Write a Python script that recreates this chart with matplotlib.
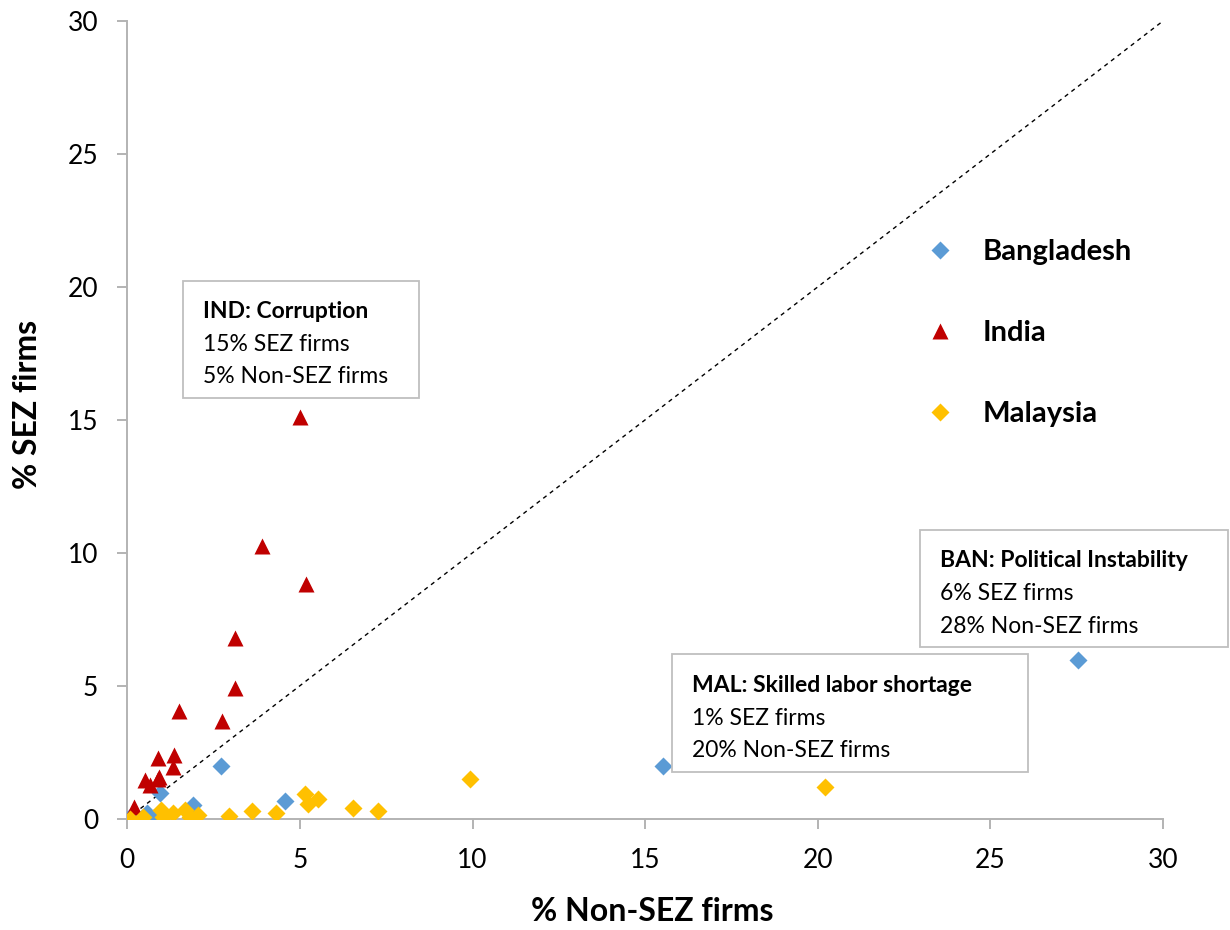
import matplotlib
matplotlib.use("Agg")
import matplotlib.pyplot as plt
from matplotlib.patches import Rectangle

plt.rcParams['font.family'] = ['Lato', 'DejaVu Sans']

# Data (% of firms citing obstacle)
bangladesh_x = [0.08, 0.30, 0.56, 0.75, 0.95, 1.91, 2.71, 4.58, 15.52, 25.33, 27.55]
bangladesh_y = [0.06, 0.00, 0.20, 0.02, 0.96, 0.52, 1.99, 0.67, 2.00, 3.67, 5.96]

india_x = [0.19, 0.51, 0.66, 0.90, 0.93, 0.88, 1.33, 1.36, 1.50, 2.75, 3.13, 3.13, 3.91, 4.99, 5.18]
india_y = [0.45, 1.46, 1.27, 1.50, 1.58, 2.28, 1.94, 2.40, 4.04, 3.66, 4.92, 6.80, 10.26, 15.10, 8.82]

malaysia_x = [0.08, 0.46, 0.99, 1.02, 1.33, 1.67, 1.81, 2.05, 2.94, 3.60, 4.32,
              5.16, 5.23, 5.52, 6.53, 7.27, 9.92, 20.21]
malaysia_y = [0.00, 0.05, 0.33, 0.08, 0.20, 0.33, 0.05, 0.14, 0.10, 0.30, 0.20,
              0.93, 0.55, 0.73, 0.39, 0.29, 1.49, 1.21]

ticks = [0, 5, 10, 15, 20, 25, 30]

# callout boxes: (left, bottom, right, top) in data units, then title + two lines
callouts = [
    ((1.60, 15.83, 8.45, 20.24), "IND: Corruption", "15% SEZ firms", "5% Non-SEZ firms"),
    ((22.96, 6.45, 31.89, 10.87), "BAN: Political Instability", "6% SEZ firms", "28% Non-SEZ firms"),
    ((15.79, 1.77, 26.10, 6.20), "MAL: Skilled labor shortage", "1% SEZ firms", "20% Non-SEZ firms"),
]

grey = '#B3B3B3'

fig = plt.figure(figsize=(12.3, 9.3), dpi=100)
ax = fig.add_axes([0.1035, 0.1197, 0.842, 0.8577])

# 45 degree reference line
ax.plot([0, 30], [0, 30], color='black', lw=1.0, dashes=(3, 3), zorder=1)

ax.plot(bangladesh_x, bangladesh_y, 'D', ms=9.5, color='#5B9BD5', mec='none', label='Bangladesh', zorder=3)
ax.plot(india_x, india_y, '^', ms=11, color='#C00000', mec='none', label='India', zorder=3)
ax.plot(malaysia_x, malaysia_y, 'D', ms=9.5, color='#FFC000', mec='none', label='Malaysia', zorder=3)

ax.set_xlim(0, 30)
ax.set_ylim(0, 30)
ax.set_xticks(ticks)
ax.set_yticks(ticks)
for s in ['top', 'right']:
    ax.spines[s].set_visible(False)
for s in ['left', 'bottom']:
    ax.spines[s].set_color(grey)
    ax.spines[s].set_linewidth(1.4)
ax.tick_params(length=7, width=1.4, color=grey, labelsize=19, pad=14)

ax.set_xlabel('% Non-SEZ firms', fontsize=23, fontweight='bold')
ax.set_ylabel('% SEZ firms', fontsize=23, fontweight='bold')
ax.xaxis.set_label_coords(0.507, -0.098)
ax.yaxis.set_label_coords(-0.082, 0.519)

ax.legend(loc='center left', bbox_to_anchor=(0.743, 0.642), bbox_transform=fig.transFigure,
          frameon=False, prop={'weight': 'bold', 'size': 21},
          handlelength=1.0, handletextpad=0.97, labelspacing=1.88, borderaxespad=0, numpoints=1)

for (x0, y0, x1, y1), title, l1, l2 in callouts:
    ax.add_patch(Rectangle((x0, y0), x1 - x0, y1 - y0, facecolor='white', edgecolor='#BFBFBF',
                           lw=1.3, clip_on=False, zorder=4))
    tx = x0 + 0.58
    h = y1 - y0
    ax.text(tx, y1 - 0.265 * h, title, fontsize=16.5, fontweight='bold', va='center', zorder=5)
    ax.text(tx, y1 - 0.545 * h, l1, fontsize=16.5, va='center', zorder=5)
    ax.text(tx, y1 - 0.82 * h, l2, fontsize=16.5, va='center', zorder=5)

fig.savefig('out.png', dpi=100)
